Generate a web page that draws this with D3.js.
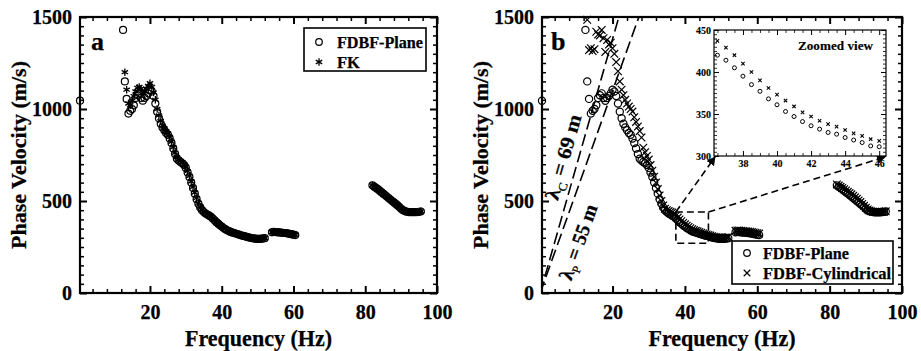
<!DOCTYPE html>
<html>
<head>
<meta charset="utf-8">
<script src="https://cdn.jsdelivr.net/npm/d3@7"></script>
<style>
  body { margin: 0; background: #fff; }
  svg text { font-family: "Liberation Serif", "Times New Roman", serif; font-weight: bold; fill: #000; stroke: #000; stroke-width: 0.25px; }
</style>
</head>
<body>
<script>
// ---- data ----
const planeFreqLow = [0.5, 12.5, 13, 13.5, 14, 14.5, 15, 15.5, 16, 16.5, 17, 17.5, 18, 18.5, 19, 19.5, 20, 20.5, 21, 21.5, 22, 22.5, 23, 23.5, 24, 24.5, 25, 25.5, 26, 26.5, 27, 27.5, 28, 28.5, 29, 29.5, 30, 30.5, 31, 31.5, 32, 32.5, 33, 33.5, 34, 34.5, 35, 35.5, 36, 36.5, 37, 37.5, 38, 38.5, 39, 39.5, 40, 40.5, 41, 41.5, 42, 42.5, 43, 43.5, 44, 44.5, 45, 45.5, 46, 46.5, 47, 47.5, 48, 48.5, 49, 49.5, 50, 50.5, 51, 51.5, 52];
const planeVelLow = [1045, 1430, 1150, 1055, 975, 990, 1000, 1020, 1060, 1075, 1085, 1060, 1045, 1060, 1070, 1085, 1105, 1095, 1070, 1030, 985, 950, 920, 900, 885, 870, 860, 840, 815, 785, 755, 730, 720, 712, 705, 695, 680, 655, 630, 600, 570, 540, 510, 485, 465, 450, 440, 432, 426, 420, 414, 405, 395, 385, 377, 368, 361, 353, 347, 341, 336, 332, 328, 326, 322, 319, 316, 312, 311, 308, 305, 302, 300, 298, 296, 295, 294, 294, 295, 296, 298];

const freqLow = [13, 13.5, 14, 14.5, 15, 15.5, 16, 16.5, 17, 17.5, 18, 18.5, 19, 19.5, 20, 20.5, 21, 21.5, 22, 22.5, 23, 23.5, 24, 24.5, 25, 25.5, 26, 26.5, 27, 27.5, 28, 28.5, 29, 29.5, 30, 30.5, 31, 31.5, 32, 32.5, 33, 33.5, 34, 34.5, 35, 35.5, 36, 36.5, 37, 37.5, 38, 38.5, 39, 39.5, 40, 40.5, 41, 41.5, 42, 42.5, 43, 43.5, 44, 44.5, 45, 45.5, 46, 46.5, 47, 47.5, 48, 48.5, 49, 49.5, 50, 50.5, 51, 51.5, 52];
const fkVelLow = [1200, 1105, 1030, 1020, 1045, 1070, 1095, 1115, 1120, 1110, 1090, 1095, 1110, 1125, 1140, 1120, 1090, 1050, 1000, 965, 935, 910, 895, 880, 868, 848, 822, 792, 762, 738, 726, 718, 710, 700, 686, 662, 636, 606, 576, 546, 516, 490, 469, 453, 442, 434, 428, 422, 416, 407, 397, 388, 379, 370, 363, 355, 349, 343, 338, 334, 330, 327, 324, 321, 318, 314, 312, 309, 306, 303, 301, 299, 297, 296, 295, 295, 296, 297, 299];
const cylVelLow = [1485, 1320, 1330, 1315, 1325, 1420, 1405, 1400, 1430, 1385, 1310, 1375, 1350, 1360, 1330, 1300, 1255, 1205, 1150, 1105, 1075, 1050, 1030, 1013, 1000, 986, 955, 930, 905, 880, 845, 790, 765, 745, 725, 695, 665, 632, 600, 565, 530, 500, 476, 458, 450, 445, 441, 437, 429, 420, 410, 400, 390, 381, 373, 366, 359, 352, 347, 342, 338, 335, 331, 327, 324, 320, 318, 315, 312, 309, 306, 304, 302, 301, 300, 300, 301, 302, 304];

const freqMid = [54, 54.5, 55, 55.5, 56, 56.5, 57, 57.5, 58, 58.5, 59, 59.5, 60, 60.5];
const planeVelMid = [330, 332, 331, 330, 329, 328, 327, 326, 325, 323, 321, 319, 317, 315];
const fkVelMid = [331, 333, 332, 331, 330, 329, 328, 327, 326, 324, 322, 320, 318, 316];
const cylVelMid = [338, 340, 339, 338, 337, 336, 335, 334, 333, 331, 329, 327, 325, 323];

const freqHigh = [82, 82.5, 83, 83.5, 84, 84.5, 85, 85.5, 86, 86.5, 87, 87.5, 88, 88.5, 89, 89.5, 90, 90.5, 91, 91.5, 92, 92.5, 93, 93.5, 94, 94.5, 95, 95.5];
const planeVelHigh = [585, 578, 571, 564, 556, 548, 540, 532, 524, 516, 508, 500, 492, 484, 476, 467, 458, 450, 445, 442, 440, 439, 439, 439, 439, 440, 441, 443];
const fkVelHigh = [586, 579, 572, 565, 557, 549, 541, 533, 525, 517, 509, 501, 493, 485, 477, 468, 459, 451, 446, 443, 441, 440, 440, 440, 440, 441, 442, 444];
const cylVelHigh = [590, 584, 577, 571, 564, 557, 550, 543, 536, 528, 520, 512, 503, 494, 484, 474, 463, 454, 448, 444, 442, 441, 440, 440, 440, 441, 442, 444];

const xTicks = [20, 40, 60, 80, 100];
const yTicks = [0, 500, 1000, 1500];
const insetXTicks = [38, 40, 42, 44, 46];
const insetYTicks = [300, 350, 400, 450];
const wavelengths = [69, 55];          // lambda_C, lambda_P (m)
const zoomBox = [37.5, 46.5, 270, 440]; // f0, f1, v0, v1

// join frequencies and velocities into point lists
const pts = (fs, vs) => fs.map((f, i) => ({ f: f, v: vs[i] }));
const plane = [].concat(pts(planeFreqLow, planeVelLow), pts(freqMid, planeVelMid), pts(freqHigh, planeVelHigh));
const fk = [].concat(pts(freqLow, fkVelLow), pts(freqMid, fkVelMid), pts(freqHigh, fkVelHigh));
const cyl = [].concat(pts(freqLow, cylVelLow), pts(freqMid, cylVelMid), pts(freqHigh, cylVelHigh));

const width = 921, height = 351;
const plotTop = 17, plotBottom = 293;

const svg = d3.select("body").append("svg")
    .attr("width", width)
    .attr("height", height);

// arrow head marker
svg.append("defs").append("marker")
    .attr("id", "arrow")
    .attr("viewBox", "0 0 10 10")
    .attr("refX", 9).attr("refY", 5)
    .attr("markerWidth", 9).attr("markerHeight", 9)
    .attr("markerUnits", "userSpaceOnUse")
    .attr("orient", "auto")
    .append("path").attr("d", "M0,0 L10,5 L0,10 z").attr("fill", "#000");

function styleAxis(sel, w) {
    sel.select(".domain").remove();
    sel.selectAll(".tick line").attr("stroke", "#000").attr("stroke-width", w);
}

// text squeezed/stretched to the width seen in the figure
function fitText(g, txt, len, size) {
    return g.append("text")
        .attr("textLength", len)
        .attr("lengthAdjust", "spacingAndGlyphs")
        .style("font-size", size + "px")
        .text(txt);
}

function drawPanel(left, right, id) {
    const x = d3.scaleLinear().domain([0.5, 100]).range([left, right]);
    const y = d3.scaleLinear().domain([0, 1500]).range([plotBottom, plotTop]);
    const g = svg.append("g");

    g.append("clipPath").attr("id", "clip" + id)
        .append("rect")
        .attr("x", left).attr("y", plotTop)
        .attr("width", right - left).attr("height", plotBottom - plotTop);

    const xMinor = d3.range(4, 100, 4).filter(d => d % 20 !== 0);
    const yMinor = d3.range(50, 1500, 50).filter(d => d % 500 !== 0);

    // major ticks with labels
    g.append("g").attr("transform", `translate(0,${plotBottom})`)
        .call(d3.axisBottom(x).tickValues(xTicks).tickSize(-7).tickPadding(12).tickFormat(d3.format("d")))
        .call(styleAxis, 2)
        .selectAll("text").style("font-size", "20px");
    g.append("g").attr("transform", `translate(${left},0)`)
        .call(d3.axisLeft(y).tickValues(yTicks).tickSize(-7).tickPadding(8).tickFormat(d3.format("d")))
        .call(styleAxis, 2)
        .selectAll("text").style("font-size", "20px");
    g.append("g").attr("transform", `translate(0,${plotTop})`)
        .call(d3.axisTop(x).tickValues(xTicks).tickSize(-7).tickFormat(""))
        .call(styleAxis, 2);
    g.append("g").attr("transform", `translate(${right},0)`)
        .call(d3.axisRight(y).tickValues(yTicks).tickSize(-7).tickFormat(""))
        .call(styleAxis, 2);

    // minor ticks
    g.append("g").attr("transform", `translate(0,${plotBottom})`)
        .call(d3.axisBottom(x).tickValues(xMinor).tickSize(-4).tickFormat(""))
        .call(styleAxis, 1.5);
    g.append("g").attr("transform", `translate(0,${plotTop})`)
        .call(d3.axisTop(x).tickValues(xMinor).tickSize(-4).tickFormat(""))
        .call(styleAxis, 1.5);
    g.append("g").attr("transform", `translate(${left},0)`)
        .call(d3.axisLeft(y).tickValues(yMinor).tickSize(-4).tickFormat(""))
        .call(styleAxis, 1.5);
    g.append("g").attr("transform", `translate(${right},0)`)
        .call(d3.axisRight(y).tickValues(yMinor).tickSize(-4).tickFormat(""))
        .call(styleAxis, 1.5);

    // frame
    g.append("rect")
        .attr("x", left).attr("y", plotTop)
        .attr("width", right - left).attr("height", plotBottom - plotTop)
        .attr("fill", "none").attr("stroke", "#000").attr("stroke-width", 2.2);

    // axis titles
    fitText(g, "Frequency (Hz)", 147, 23)
        .attr("x", (left + right) / 2 - 73.5).attr("y", 346);
    fitText(g, "Phase Velocity (m/s)", 188, 21)
        .attr("transform", `translate(${left - 54},${(plotTop + plotBottom) / 2 + 94}) rotate(-90)`);

    return { g, x, y };
}

function circles(g, data, x, y, r, w) {
    g.append("g").selectAll("circle")
        .data(data).enter().append("circle")
        .attr("cx", d => x(d.f)).attr("cy", d => y(d.v))
        .attr("r", r)
        .attr("fill", "none").attr("stroke", "#000").attr("stroke-width", w);
}

function symbols(g, data, x, y, type, size, w) {
    g.append("g").selectAll("path")
        .data(data).enter().append("path")
        .attr("transform", d => `translate(${x(d.f)},${y(d.v)})`)
        .attr("d", d3.symbol().type(type).size(size))
        .attr("fill", "none").attr("stroke", "#000").attr("stroke-width", w);
}

// ---------- panel a ----------
const A = drawPanel(80, 437, "a");
circles(A.g, plane, A.x, A.y, 3.5, 1.2);
symbols(A.g, fk, A.x, A.y, d3.symbolAsterisk, 38, 1.3);

A.g.append("text").attr("x", 91).attr("y", 50).style("font-size", "26px").text("a");

const legA = A.g.append("g");
legA.append("rect").attr("x", 304).attr("y", 28).attr("width", 122).attr("height", 43)
    .attr("fill", "#fff").attr("stroke", "#000").attr("stroke-width", 1.6);
legA.append("circle").attr("cx", 319).attr("cy", 42).attr("r", 3.3)
    .attr("fill", "none").attr("stroke", "#000").attr("stroke-width", 1.2);
legA.append("path").attr("transform", "translate(319,62)")
    .attr("d", d3.symbol().type(d3.symbolAsterisk).size(38))
    .attr("fill", "none").attr("stroke", "#000").attr("stroke-width", 1.3);
fitText(legA, "FDBF-Plane", 86, 16.5).attr("x", 337).attr("y", 47.5);
legA.append("text").attr("x", 337).attr("y", 67.5).style("font-size", "16.5px").text("FK");

// ---------- panel b ----------
const B = drawPanel(542, 902, "b");

// wavelength lines
const lamG = B.g.append("g").attr("clip-path", "url(#clipb)");
wavelengths.forEach(lam => {
    lamG.append("path")
        .datum([[0, 0], [1600 / lam, 1600]])
        .attr("d", d3.line().x(d => B.x(d[0])).y(d => B.y(d[1])))
        .attr("fill", "none").attr("stroke", "#000").attr("stroke-width", 1.6)
        .attr("stroke-dasharray", "12,5");
});

circles(B.g, plane, B.x, B.y, 3.6, 1.2);
symbols(B.g, cyl, B.x, B.y, d3.symbolTimes, 40, 1.2);

// wavelength labels
function lamLabel(lam, sub, cx, cy, len) {
    const ang = Math.atan2(B.y(1500) - B.y(0), B.x(1500 / lam) - B.x(0)) * 180 / Math.PI;
    const t = B.g.append("text")
        .attr("transform", `translate(${cx},${cy}) rotate(${ang})`)
        .attr("x", -len / 2)
        .attr("dy", "0.35em")
        .attr("textLength", len)
        .attr("lengthAdjust", "spacingAndGlyphs")
        .style("font-size", "20px");
    t.append("tspan").text("λ");
    t.append("tspan").attr("dy", 5).style("font-size", "12px").style("font-weight", "normal").text(sub);
    t.append("tspan").attr("dy", -5).text(` = ${lam} m`);
}
lamLabel(wavelengths[0], "C", 563, 157, 88);
lamLabel(wavelengths[1], "P", 578, 242, 79);

B.g.append("text").attr("x", 551).attr("y", 50).style("font-size", "26px").text("b");

// zoom box and arrows
const ix = d3.scaleLinear().domain([36.3, 46.4]).range([714, 886]);
const iy = d3.scaleLinear().domain([300, 450]).range([156, 30]);

B.g.append("rect")
    .attr("x", B.x(zoomBox[0])).attr("y", B.y(zoomBox[3]))
    .attr("width", B.x(zoomBox[1]) - B.x(zoomBox[0]))
    .attr("height", B.y(zoomBox[2]) - B.y(zoomBox[3]))
    .attr("fill", "none").attr("stroke", "#000").attr("stroke-width", 1.6)
    .attr("stroke-dasharray", "7,4");
[[zoomBox[0], ix.range()[0] + 1], [zoomBox[1], ix.range()[1] - 1]].forEach(([f, tx]) => {
    B.g.append("line")
        .attr("x1", B.x(f)).attr("y1", B.y(zoomBox[3]))
        .attr("x2", tx).attr("y2", iy.range()[0] + 1)
        .attr("stroke", "#000").attr("stroke-width", 1.6)
        .attr("stroke-dasharray", "7,4")
        .attr("marker-end", "url(#arrow)");
});

// inset
const ins = B.g.append("g");
ins.append("rect").attr("x", 714).attr("y", 30).attr("width", 172).attr("height", 126)
    .attr("fill", "#fff");
const ixMinor = d3.range(36.5, 46.4, 0.5).filter(d => d % 2 !== 0);
const iyMinor = d3.range(305, 450, 5).filter(d => d % 50 !== 0);

ins.append("g").attr("transform", "translate(0,156)")
    .call(d3.axisBottom(ix).tickValues(insetXTicks).tickSize(-5).tickPadding(4))
    .call(styleAxis, 1)
    .selectAll("text").style("font-size", "10px").style("stroke-width", "0.1px");
ins.append("g").attr("transform", "translate(714,0)")
    .call(d3.axisLeft(iy).tickValues(insetYTicks).tickSize(-5).tickPadding(3))
    .call(styleAxis, 1)
    .selectAll("text").style("font-size", "10px").style("stroke-width", "0.1px");
ins.append("g").attr("transform", "translate(0,30)")
    .call(d3.axisTop(ix).tickValues(insetXTicks).tickSize(-5).tickFormat(""))
    .call(styleAxis, 1);
ins.append("g").attr("transform", "translate(886,0)")
    .call(d3.axisRight(iy).tickValues(insetYTicks).tickSize(-5).tickFormat(""))
    .call(styleAxis, 1);
ins.append("g").attr("transform", "translate(0,156)")
    .call(d3.axisBottom(ix).tickValues(ixMinor).tickSize(-3).tickFormat(""))
    .call(styleAxis, 0.8);
ins.append("g").attr("transform", "translate(0,30)")
    .call(d3.axisTop(ix).tickValues(ixMinor).tickSize(-3).tickFormat(""))
    .call(styleAxis, 0.8);
ins.append("g").attr("transform", "translate(714,0)")
    .call(d3.axisLeft(iy).tickValues(iyMinor).tickSize(-3).tickFormat(""))
    .call(styleAxis, 0.8);
ins.append("g").attr("transform", "translate(886,0)")
    .call(d3.axisRight(iy).tickValues(iyMinor).tickSize(-3).tickFormat(""))
    .call(styleAxis, 0.8);
ins.append("rect").attr("x", 714).attr("y", 30).attr("width", 172).attr("height", 126)
    .attr("fill", "none").attr("stroke", "#000").attr("stroke-width", 1.2);

const inRange = d => d.f >= 36.5 && d.f <= 46;
circles(ins, plane.filter(inRange), ix, iy, 2, 1);
symbols(ins, cyl.filter(inRange), ix, iy, d3.symbolTimes, 9, 1.1);
fitText(ins, "Zoomed view", 75, 13).attr("x", 798).attr("y", 50).style("stroke-width", "0.15px");

// legend b
const legB = B.g.append("g");
legB.append("rect").attr("x", 732).attr("y", 241).attr("width", 161).attr("height", 43)
    .attr("fill", "#fff").attr("stroke", "#000").attr("stroke-width", 1.6);
legB.append("circle").attr("cx", 747).attr("cy", 253).attr("r", 3.3)
    .attr("fill", "none").attr("stroke", "#000").attr("stroke-width", 1.2);
legB.append("path").attr("transform", "translate(747,273)")
    .attr("d", d3.symbol().type(d3.symbolTimes).size(30))
    .attr("fill", "none").attr("stroke", "#000").attr("stroke-width", 1.2);
fitText(legB, "FDBF-Plane", 86, 16.5).attr("x", 763).attr("y", 259);
fitText(legB, "FDBF-Cylindrical", 128, 16.5).attr("x", 763).attr("y", 279);
</script>
</body>
</html>
